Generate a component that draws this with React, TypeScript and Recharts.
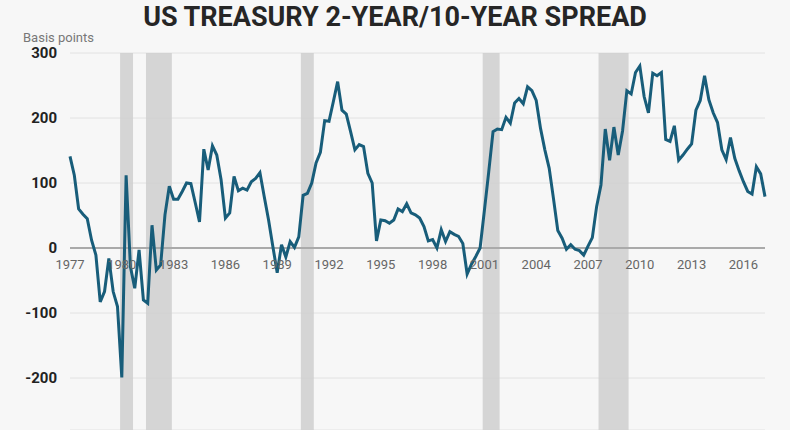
import { LineChart, Line, XAxis, YAxis, CartesianGrid, ReferenceArea, ReferenceLine, ReferenceDot } from 'recharts';

// quarterly 10y minus 2y spread, basis points, starting 1977 Q1
const spread1970s = [
    141, 112, 60, 52,
    45, 12, -11, -83,
    -67, -16, -67, -90,
];
const spread1980s = [
    -199, 112, -29, -62,
    -3, -80, -85, 35,
    -34, -26, 51, 95,
    75, 75, 87, 100,
    99, 70, 40, 152,
    120, 157, 143, 105,
    46, 54, 110, 88,
    92, 89, 102, 107,
    116, 79, 43, 2,
    -38, 5, -14, 10,
];
const spread1990s = [
    1, 17, 81, 84,
    100, 131, 147, 196,
    195, 225, 256, 212,
    206, 179, 151, 159,
    156, 115, 100, 11,
    43, 42, 38, 43,
    60, 56, 68, 54,
    51, 46, 33, 11,
    13, 0, 28, 10,
    25, 21, 18, 7,
];
const spread2000s = [
    -40, -25, -13, 0,
    58, 117, 179, 183,
    182, 201, 192, 223,
    230, 222, 248, 242,
    227, 184, 151, 123,
    76, 27, 15, -2,
    5, -2, -4, -11,
    3, 16, 64, 97,
    183, 135, 186, 143,
    180, 242, 237, 270,
];
const spread2010s = [
    280, 233, 208, 269,
    265, 270, 167, 164,
    188, 135, 143, 152,
    160, 212, 227, 265,
    228, 208, 193, 151,
    136, 170, 138, 119,
    102, 87, 83, 125,
    114, 79,
];

const yearTicks = [1977, 1980, 1983, 1986, 1989, 1992, 1995, 1998, 2001, 2004, 2007, 2010, 2013, 2016];
const valueTicks = [-200, -100, 0, 100, 200, 300];

// shaded recessions, in decimal years
const recessionStart = [1979.9, 1981.4, 1990.37, 2000.9, 2007.61];
const recessionEnd = [1980.65, 1982.9, 1991.12, 2001.88, 2009.35];

const FIRST_YEAR = 1977;

const data = [...spread1970s, ...spread1980s, ...spread1990s, ...spread2000s, ...spread2010s].map((v, i) => ({
    year: FIRST_YEAR + i / 4,
    spread: v,
}));

const font = 'Roboto, "Noto Sans", sans-serif';

export default function App() {
    return (
        <div style={{ position: 'absolute', left: 0, top: 0, width: 790, height: 430, background: '#f7f7f7', fontFamily: font, overflow: 'hidden' }}>
            <div style={{ position: 'absolute', left: 0, top: 4, width: 790, textAlign: 'center', fontSize: 27, lineHeight: '27px', fontWeight: 700, color: '#262626' }}>
                US TREASURY 2-YEAR/10-YEAR SPREAD
            </div>
            <div style={{ position: 'absolute', left: 23, top: 31, fontSize: 13, lineHeight: '13px', color: '#777' }}>
                Basis points
            </div>
            <LineChart
                width={790}
                height={430}
                data={data}
                margin={{ top: 53, right: 25, bottom: 0, left: 0 }}
            >
                <CartesianGrid vertical={false} stroke="#e2e2e2" strokeWidth={1} />
                <XAxis dataKey="year" type="number" domain={[1977, 2017.25]} hide />
                <YAxis
                    domain={[-280, 300]}
                    ticks={valueTicks}
                    width={70}
                    axisLine={false}
                    tickLine={false}
                    tickSize={0}
                    tickMargin={13}
                    tick={{ fontSize: 15, fontWeight: 700, fill: '#222', fontFamily: font }}
                />
                {yearTicks.map(yr => (
                    <ReferenceDot
                        key={yr}
                        x={yr}
                        y={0}
                        r={0}
                        fill="none"
                        stroke="none"
                        label={{ value: String(yr), position: 'bottom', offset: 12, fill: '#666', fontSize: 13, fontFamily: font }}
                    />
                ))}
                {recessionStart.map((s, i) => (
                    <ReferenceArea key={s} x1={s} x2={recessionEnd[i]} fill="#cfcfcf" fillOpacity={0.85} stroke="none" />
                ))}
                <ReferenceLine y={0} stroke="#aaa" strokeWidth={2} />
                <Line
                    dataKey="spread"
                    type="linear"
                    stroke="#185d7a"
                    strokeWidth={3}
                    dot={false}
                    isAnimationActive={false}
                />
            </LineChart>
        </div>
    );
}
